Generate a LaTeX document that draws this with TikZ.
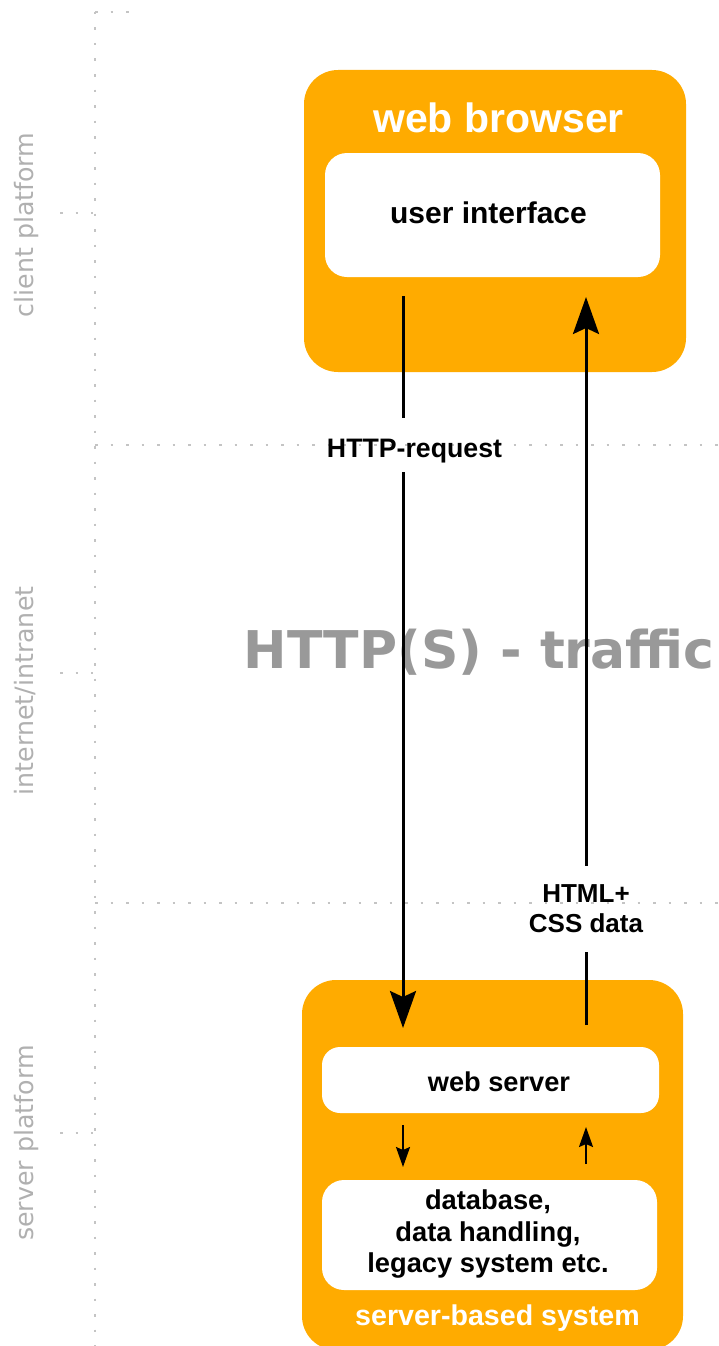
\documentclass[tikz,border=0pt]{standalone}
\usepackage{fontspec}
\usepackage{graphicx}
\setmainfont{Liberation Sans}
\newfontfamily\dejavu{DejaVu Sans}
\usetikzlibrary{arrows.meta}
\definecolor{orng}{HTML}{FFAB00}
\definecolor{dotg}{HTML}{C4C4C4}
\definecolor{sideg}{HTML}{B0B0B0}
\definecolor{bigg}{HTML}{999999}
\begin{document}
\begin{tikzpicture}[x=1pt,y=-1pt,
  obox/.style={fill=orng, draw=none, inner sep=0pt, outer sep=0pt, rounded corners=34pt},
  wbox/.style={fill=white, draw=none, inner sep=0pt, outer sep=0pt},
  txt/.style={anchor=base, inner sep=0pt, outer sep=0pt},
  dotline/.style={draw=dotg, line width=2pt, dash pattern=on 2.5pt off 13pt},
  sidelab/.style={rotate=90, anchor=base, inner sep=0pt, text=sideg, font=\dejavu\fontsize{25.3}{25.3}\selectfont},
  bigarrow/.style={line width=3pt, -{Stealth[length=37pt, width=26pt, inset=6pt]}},
  plainline/.style={line width=3pt},
  smallarrow/.style={line width=2pt, -{Stealth[length=20pt, width=14pt, inset=3pt]}}
]
\useasboundingbox (0,0) rectangle (719,1346);

% platform separators
\draw[dotline] (95,12) -- (95,1346);
\draw[dotline] (95,12) -- (135,12);
\draw[dotline] (95,445) -- (719,445);
\draw[dotline] (95,903) -- (719,903);
\draw[dotline] (60,213) -- (93,213);
\draw[dotline] (60,673) -- (93,673);
\draw[dotline] (60,1133) -- (93,1133);

% side labels
\node[sidelab] (clientL) at (33,225) {client platform};
\node[sidelab] (netL) at (33,691) {internet/intranet};
\node[sidelab] (serverL) at (33,1143) {server platform};

% web browser
\node[obox, minimum width=382pt, minimum height=302pt] (browser) at (495,221) {};
\node[txt, text=white, font=\bfseries\fontsize{41}{41}\selectfont] (browserT) at (498.5,132) {web browser};
\node[wbox, rounded corners=22pt, minimum width=335pt, minimum height=124pt] (ui) at (492.5,215) {};
\node[txt, font=\bfseries\fontsize{30}{30}\selectfont] (uiT) at (488.5,223) {user interface};

% server-based system
\node[obox, minimum width=381pt, minimum height=370pt] (server) at (492.5,1165) {};
\node[wbox, rounded corners=18pt, minimum width=337pt, minimum height=66pt] (websrv) at (490.5,1080) {};
\node[txt, font=\bfseries\fontsize{27.2}{27.2}\selectfont] (websrvT) at (499,1091) {web server};
\node[wbox, rounded corners=22pt, minimum width=335pt, minimum height=110pt] (db) at (489.5,1235) {};
\node[inner sep=0pt, align=center, font=\bfseries\fontsize{27.3}{31.5}\selectfont] (dbT) at (488,1234.4) {database,\\data handling,\\legacy system etc.};
\node[txt, text=white, font=\bfseries\fontsize{28.6}{28.6}\selectfont] (serverT) at (497.5,1325) {server-based system};

% traffic
\node[txt, text=bigg, font=\dejavu\bfseries\fontsize{52}{52}\selectfont] (traffic) at (479,668) {HTTP(S) - traffic};

% arrow labels
\node[txt, text height=39pt, text depth=15pt, font=\bfseries\fontsize{26.7}{26.7}\selectfont] (reqL) at (414.5,457) {HTTP-request};
\node[inner sep=0pt, inner ysep=19pt, align=center, font=\bfseries\fontsize{26}{30}\selectfont] (resL) at (586,908.9) {HTML+\\CSS data};

% arrows
\coordinate (reqA) at (403,296);
\coordinate (reqB) at (403,1028);
\coordinate (resA) at (586,1025);
\coordinate (resB) at (586,297);
\draw[plainline] (reqA) -- (reqA |- reqL.north);
\draw[bigarrow] (reqA |- reqL.south) -- (reqB);
\draw[plainline] (resA) -- (resA |- resL.south);
\draw[bigarrow] (resA |- resL.north) -- (resB);

\draw[smallarrow, shorten <=12pt, shorten >=13pt] (reqA |- websrv.south) -- (reqA |- db.north);
\draw[smallarrow, shorten <=16pt, shorten >=14pt] (resA |- db.north) -- (resA |- websrv.south);
\end{tikzpicture}
\end{document}
